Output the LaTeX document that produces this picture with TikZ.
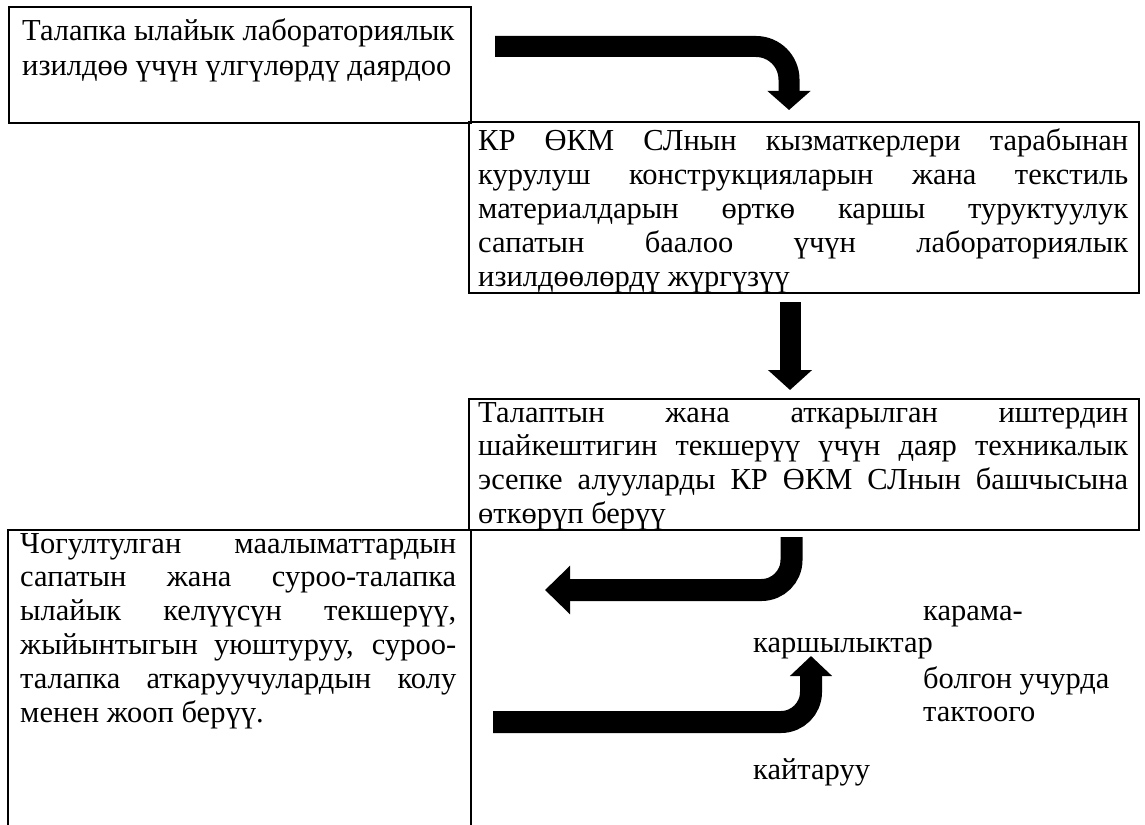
\documentclass[tikz,border=0pt]{standalone}
\usepackage{fontspec}
\setmainfont{Liberation Serif}
\usetikzlibrary{arrows.meta}
\newcommand{\jline}[1]{\makebox[\linewidth][s]{#1}}
\newcommand{\txtfont}{\fontsize{30.5}{34.2}\selectfont}
\newcommand{\txtfontb}{\fontsize{30.5}{33.8}\selectfont}
\tikzset{
  boxframe/.style={draw=black, line width=1.6pt, inner sep=0pt, anchor=north west},
  boxtext/.style={anchor=base west, inner sep=0pt, font=\txtfont},
  fatarrow/.style={line width=21pt, -{Triangle[length=20pt,width=43pt]}},
  lbl/.style={anchor=base west, inner sep=0pt, font=\txtfont}
}
\begin{document}
\begin{tikzpicture}[x=1pt,y=-1pt]
\useasboundingbox (0,0) rectangle (1145,824);
\clip (0,0) rectangle (1145,824);
% boxes
\node[boxframe, minimum width=462pt, minimum height=116pt] (b1) at (8,6) {};
\node[boxframe, minimum width=670pt, minimum height=171pt] (b2) at (468,121) {};
\node[boxframe, minimum width=670pt, minimum height=131pt] (b3) at (468,398) {};
\node[boxframe, minimum width=463pt, minimum height=320pt] (b4) at (7,529) {};
% texts
\node[boxtext] (t1) at (22,41) {\parbox[t]{440pt}{\txtfont
Талапка ылайык лабораториялык\\
изилдөө үчүн үлгүлөрдү даярдоо}};
\node[boxtext] (t2) at (478,150) {\parbox[t]{650pt}{\txtfont
\jline{КР ӨКМ СЛнын кызматкерлери тарабынан}\\
\jline{курулуш конструкцияларын жана текстиль}\\
\jline{материалдарын өрткө каршы туруктуулук}\\
\jline{сапатын баалоо үчүн лабораториялык}\\
изилдөөлөрдү жүргүзүү}};
\node[boxtext] (t3) at (478,422) {\parbox[t]{650pt}{\txtfontb
\jline{Талаптын жана аткарылган иштердин}\\
\jline{шайкештигин текшерүү үчүн даяр техникалык}\\
\jline{эсепке алууларды КР ӨКМ СЛнын башчысына}\\
өткөрүп берүү}};
\node[boxtext] (t4) at (20,553) {\parbox[t]{436pt}{\txtfontb
\jline{Чогултулган маалыматтардын}\\
\jline{сапатын жана суроо-талапка}\\
\jline{ылайык келүүсүн текшерүү,}\\
\jline{жыйынтыгын уюштуруу, суроо-}\\
\jline{талапка аткаруучулардын колу}\\
менен жооп берүү.}};
% labels
\node[lbl] (l1) at (923,620) {карама-};
\node[lbl] (l2) at (753,652) {каршылыктар};
\node[lbl] (l3) at (923,688) {болгон учурда};
\node[lbl] (l4) at (923,721) {тактоого};
\node[lbl] (l5) at (753,779) {кайтаруу};
% arrow coordinates
\coordinate (a1s) at (495,46.5);
\coordinate (a1c) at (789,46.5);
\coordinate (a1e) at (789,110);
\coordinate (a2s) at (790,302);
\coordinate (a2e) at (790,390);
\coordinate (a3s) at (791.5,537);
\coordinate (a3c) at (791.5,590);
\coordinate (a3e) at (545,590);
\coordinate (a4s) at (493,722);
\coordinate (a4c) at (811,722);
\coordinate (a4e) at (811,656);
% arrows
\draw[fatarrow, -{Triangle[length=19pt,width=42pt]}, rounded corners=33pt] (a1s) -- (a1c) -- (a1e);
\draw[fatarrow] (a2s) -- (a2e);
\draw[fatarrow, line width=22pt, -{Triangle[length=25pt,width=47pt]}, rounded corners=30pt] (a3s) -- (a3c) -- (a3e);
\draw[fatarrow, line width=22pt, -{Triangle[length=20pt,width=41pt]}, rounded corners=30pt] (a4s) -- (a4c) -- (a4e);
\end{tikzpicture}
\end{document}
